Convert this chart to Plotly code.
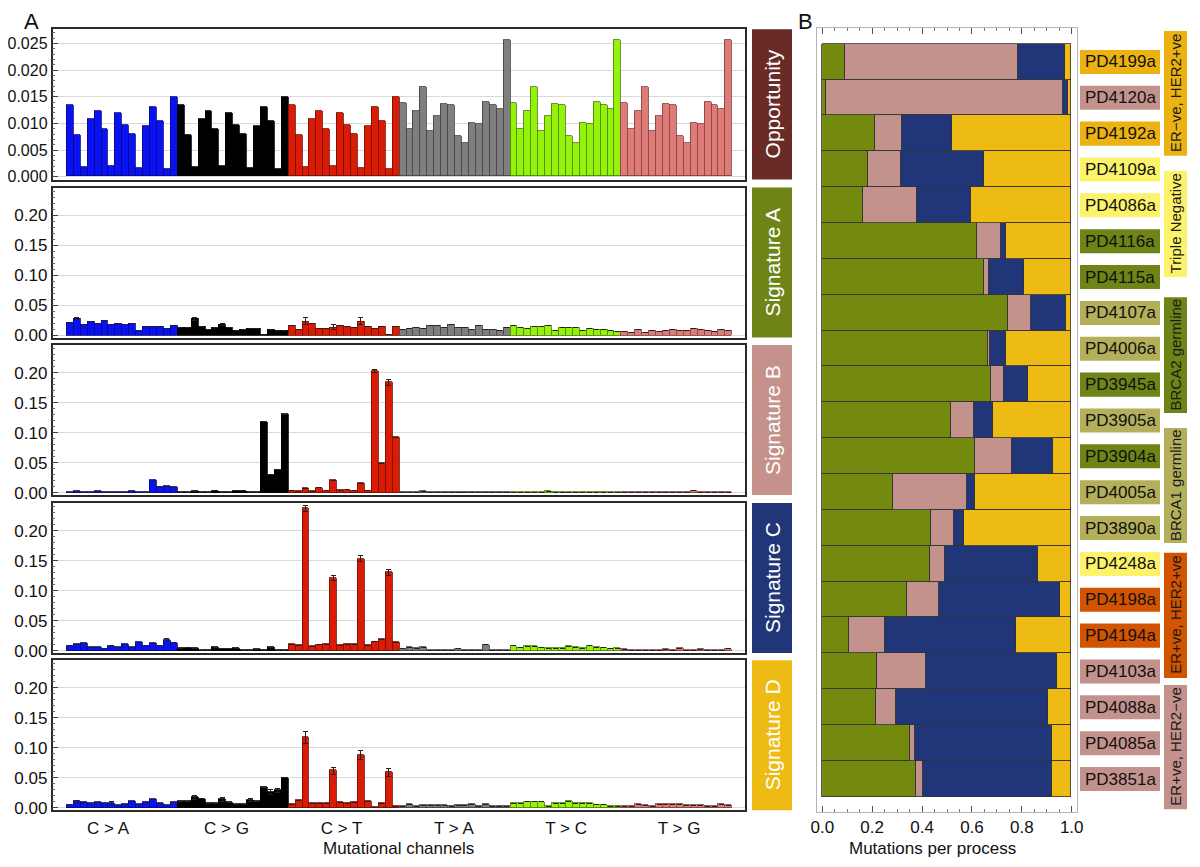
import plotly.graph_objects as go

FULL_W, FULL_H = 1200, 867
OFF = 8  # page body margin
W, H = FULL_W - OFF, FULL_H - OFF
FONT = "Liberation Sans, Arial, Helvetica, sans-serif"

# ---------------- data: panel A ----------------
mut_groups = ["C > A", "C > G", "C > T", "T > A", "T > C", "T > G"]
group_fill = ["#0A12F2", "#000000", "#DA1B06", "#7F7F7F", "#95F20A", "#DF7C78"]
group_edge = ["#06097A", "#000000", "#6E0E03", "#3F3F3F", "#4A7905", "#7A3D3B"]

opp_C = [0.0134, 0.0078, 0.0017, 0.0108, 0.0123, 0.0088, 0.0019, 0.0119,
         0.0097, 0.0080, 0.0016, 0.0094, 0.0131, 0.0103, 0.0014, 0.0148]
opp_T = [0.0138, 0.0089, 0.0123, 0.0167, 0.0086, 0.0113, 0.0136, 0.0134,
         0.0076, 0.0063, 0.0101, 0.0098, 0.0139, 0.0133, 0.0126, 0.0256]
opportunity = opp_C + opp_C + opp_C + opp_T + opp_T + opp_T

sigA = ([0.021, 0.028, 0.018, 0.022, 0.019, 0.024, 0.017, 0.019, 0.017, 0.019, 0.007, 0.015, 0.015, 0.014, 0.011, 0.016] +
        [0.012, 0.013, 0.027, 0.014, 0.010, 0.012, 0.018, 0.013, 0.008, 0.009, 0.011, 0.011, 0.001, 0.009, 0.008, 0.007] +
        [0.016, 0.010, 0.023, 0.019, 0.011, 0.011, 0.013, 0.016, 0.014, 0.013, 0.023, 0.014, 0.011, 0.014, 0.001, 0.014] +
        [0.009, 0.011, 0.013, 0.011, 0.016, 0.016, 0.013, 0.017, 0.013, 0.013, 0.010, 0.016, 0.010, 0.010, 0.008, 0.012] +
        [0.016, 0.013, 0.011, 0.014, 0.014, 0.016, 0.008, 0.013, 0.013, 0.012, 0.008, 0.011, 0.009, 0.009, 0.007, 0.006] +
        [0.006, 0.004, 0.009, 0.005, 0.007, 0.006, 0.007, 0.009, 0.008, 0.007, 0.011, 0.009, 0.007, 0.006, 0.009, 0.007])
sigA_err_idx = [1, 18, 22, 34, 38, 42]
sigA_err_val = [0.002, 0.003, 0.002, 0.006, 0.004, 0.006]

sigB = ([0.001, 0.002, 0.001, 0.001, 0.002, 0.001, 0.001, 0.001, 0.001, 0.002, 0.001, 0.001, 0.021, 0.010, 0.011, 0.009] +
        [0.001, 0.001, 0.002, 0.001, 0.001, 0.003, 0.001, 0.001, 0.003, 0.003, 0.001, 0.001, 0.118, 0.030, 0.038, 0.131] +
        [0.003, 0.002, 0.007, 0.002, 0.008, 0.003, 0.021, 0.004, 0.005, 0.003, 0.016, 0.003, 0.203, 0.049, 0.184, 0.092] +
        [0.001, 0.001, 0.001, 0.002, 0.001, 0.001, 0.001, 0.001, 0.001, 0.001, 0.001, 0.001, 0.001, 0.001, 0.001, 0.001] +
        [0.001, 0.001, 0.001, 0.001, 0.001, 0.002, 0.001, 0.001, 0.001, 0.001, 0.001, 0.001, 0.001, 0.001, 0.001, 0.001] +
        [0.001, 0.001, 0.001, 0.001, 0.001, 0.001, 0.001, 0.001, 0.001, 0.001, 0.003, 0.001, 0.001, 0.001, 0.001, 0.001])
sigB_err_idx = [44, 46]
sigB_err_val = [0.002, 0.005]

sigC = ([0.008, 0.011, 0.012, 0.006, 0.006, 0.003, 0.008, 0.006, 0.011, 0.006, 0.014, 0.008, 0.012, 0.008, 0.018, 0.013] +
        [0.004, 0.005, 0.004, 0.001, 0.001, 0.006, 0.003, 0.003, 0.004, 0.001, 0.001, 0.002, 0.001, 0.006, 0.001, 0.001] +
        [0.011, 0.009, 0.237, 0.007, 0.010, 0.011, 0.121, 0.009, 0.011, 0.011, 0.153, 0.009, 0.015, 0.019, 0.131, 0.014] +
        [0.003, 0.006, 0.004, 0.006, 0.001, 0.001, 0.001, 0.001, 0.003, 0.001, 0.001, 0.001, 0.010, 0.001, 0.001, 0.001] +
        [0.008, 0.005, 0.007, 0.007, 0.005, 0.004, 0.004, 0.004, 0.007, 0.006, 0.004, 0.008, 0.006, 0.005, 0.003, 0.004] +
        [0.002, 0.001, 0.001, 0.001, 0.001, 0.001, 0.002, 0.001, 0.004, 0.001, 0.001, 0.002, 0.001, 0.001, 0.001, 0.003])
sigC_err_idx = [14, 34, 38, 42, 46]
sigC_err_val = [0.002, 0.005, 0.004, 0.005, 0.005]

sigD = ([0.005, 0.011, 0.009, 0.008, 0.009, 0.008, 0.008, 0.004, 0.006, 0.011, 0.006, 0.009, 0.014, 0.007, 0.004, 0.009] +
        [0.011, 0.011, 0.017, 0.015, 0.008, 0.008, 0.014, 0.009, 0.006, 0.006, 0.013, 0.011, 0.034, 0.026, 0.029, 0.050] +
        [0.006, 0.013, 0.118, 0.008, 0.007, 0.008, 0.062, 0.009, 0.007, 0.009, 0.088, 0.011, 0.001, 0.008, 0.059, 0.003] +
        [0.003, 0.006, 0.003, 0.004, 0.004, 0.004, 0.004, 0.003, 0.004, 0.004, 0.006, 0.003, 0.006, 0.002, 0.002, 0.003] +
        [0.008, 0.007, 0.010, 0.010, 0.010, 0.002, 0.008, 0.007, 0.011, 0.007, 0.007, 0.007, 0.005, 0.005, 0.002, 0.002] +
        [0.002, 0.003, 0.006, 0.004, 0.003, 0.006, 0.006, 0.006, 0.006, 0.004, 0.004, 0.004, 0.003, 0.002, 0.006, 0.004])
sigD_err_idx = [1, 6, 18, 22, 26, 29, 30, 34, 38, 42, 46]
sigD_err_val = [0.002, 0.003, 0.003, 0.003, 0.002, 0.004, 0.003, 0.010, 0.006, 0.008, 0.006]

# ---------------- data: panel B ----------------
samples = ["PD4199a", "PD4120a", "PD4192a", "PD4109a", "PD4086a", "PD4116a", "PD4115a",
           "PD4107a", "PD4006a", "PD3945a", "PD3905a", "PD3904a", "PD4005a", "PD3890a",
           "PD4248a", "PD4198a", "PD4194a", "PD4103a", "PD4088a", "PD4085a", "PD3851a"]
proc_A = [0.094, 0.015, 0.213, 0.184, 0.164, 0.622, 0.648, 0.747, 0.667, 0.676, 0.519,
          0.615, 0.286, 0.439, 0.433, 0.342, 0.110, 0.222, 0.218, 0.354, 0.378]
proc_B = [0.692, 0.952, 0.108, 0.132, 0.216, 0.095, 0.023, 0.090, 0.008, 0.053, 0.089,
          0.146, 0.294, 0.090, 0.062, 0.126, 0.143, 0.195, 0.077, 0.020, 0.026]
proc_C = [0.190, 0.020, 0.202, 0.332, 0.218, 0.022, 0.138, 0.143, 0.064, 0.095, 0.076,
          0.164, 0.035, 0.042, 0.373, 0.485, 0.524, 0.527, 0.613, 0.547, 0.517]
proc_D = [0.024, 0.013, 0.477, 0.352, 0.402, 0.261, 0.191, 0.020, 0.261, 0.176, 0.316,
          0.075, 0.385, 0.429, 0.132, 0.047, 0.223, 0.056, 0.092, 0.079, 0.079]

C_OLIVE, C_PINK, C_NAVY, C_GOLD = "#748A0E", "#C4928C", "#213678", "#EDBB13"
LBL_GOLD, LBL_LY, LBL_OLIVE, LBL_KHAKI, LBL_ORANGE = "#ECB212", "#FDF36A", "#6E8416", "#B3AF5A", "#D25400"
sample_colors = [LBL_GOLD, C_PINK, LBL_GOLD, LBL_LY, LBL_LY, LBL_OLIVE, LBL_OLIVE,
                 LBL_KHAKI, LBL_KHAKI, LBL_OLIVE, LBL_KHAKI, LBL_OLIVE, LBL_KHAKI, LBL_KHAKI,
                 LBL_LY, LBL_ORANGE, LBL_ORANGE, C_PINK, C_PINK, C_PINK, C_PINK]
subtype_names = ["ER\u2212ve, HER2+ve", "Triple Negative", "BRCA2 germline", "BRCA1 germline",
                 "ER+ve, HER2+ve", "ER+ve, HER2\u2212ve"]
subtype_colors = [LBL_GOLD, LBL_LY, LBL_OLIVE, LBL_KHAKI, LBL_ORANGE, C_PINK]
# box extents in row units (layout)
subtype_y0 = [-0.86, 3.04, 6.56, 10.21, 13.69, 17.38]
subtype_y1 = [2.62, 6.00, 9.79, 13.42, 17.18, 20.84]

# ---------------- figure ----------------
fig = go.Figure()
layout = dict(width=W, height=H, margin=dict(l=0, r=0, t=0, b=0, pad=0, autoexpand=False),
              paper_bgcolor="white", plot_bgcolor="white", showlegend=False,
              barmode="stack", bargap=0, font=dict(family=FONT, size=17, color="#111"))
shapes, annotations = [], []

def px(p):
    return (p - OFF) / W

def py(p):
    return 1 - (p - OFF) / H

def ann(x, y, text, size, color="#111", angle=0, xref="paper", yref="paper", yanchor="middle"):
    return dict(xref=xref, yref=yref, x=x, y=y, text=text, showarrow=False, textangle=angle,
                xanchor="center", yanchor=yanchor, borderpad=0,
                font=dict(size=size, color=color, family=FONT))

channels = list(range(96))
bar_fill = [group_fill[i // 16] for i in channels]
bar_edge = [group_edge[i // 16] for i in channels]

def errs(idx, val):
    a = [None] * 96
    for i, v in zip(idx, val):
        a[i] = v
    return a

panels = [
    ("Opportunity", opportunity, None, (29.3, 179.5), [-0.00052, 0.02763], 0.005, 0.001, ".3f", "#6A2B27", 16),
    ("Signature A", sigA, errs(sigA_err_idx, sigA_err_val), (187.5, 337.5), [-0.004, 0.246], 0.05, 0.01, ".2f", "#6E8416", 17),
    ("Signature B", sigB, errs(sigB_err_idx, sigB_err_val), (345.0, 495.0), [-0.004, 0.246], 0.05, 0.01, ".2f", "#C4918B", 17),
    ("Signature C", sigC, errs(sigC_err_idx, sigC_err_val), (503.0, 653.0), [-0.004, 0.246], 0.05, 0.01, ".2f", "#213678", 17),
    ("Signature D", sigD, errs(sigD_err_idx, sigD_err_val), (660.3, 810.3), [-0.004, 0.246], 0.05, 0.01, ".2f", "#EDBB13", 17),
]
group_label_pos = [5.5, 22.6, 39.2, 55.4, 71.6, 87.9]

xdom = [px(52.5), px(745)]
for k, (name, vals, err, (ptop, pbot), yr, dt, mdt, fmt, tagc, tfs) in enumerate(panels):
    n = k + 1
    xa = "x" if n == 1 else f"x{n}"
    ya = "y" if n == 1 else f"y{n}"
    tr = go.Bar(x=channels, y=vals, width=1, xaxis=xa, yaxis=ya,
                marker=dict(color=bar_fill, line=dict(color=bar_edge, width=0.8)),
                hoverinfo="skip")
    if err is not None:
        tr.error_y = dict(type="data", array=err, visible=True, color="#222", thickness=1, width=2.5)
    fig.add_trace(tr)
    last = (n == len(panels))
    layout[f"xaxis{n}"] = dict(domain=xdom, anchor=ya, range=[-2.5, 97.4], automargin=False,
                              showline=True, mirror=True, linecolor="#2a2a2a", linewidth=1.5,
                              showgrid=False, zeroline=False, ticks="",
                              tickmode="array",
                              tickvals=group_label_pos if last else [],
                              ticktext=mut_groups if last else [],
                              ticklabelstandoff=2,
                              tickfont=dict(size=17, color="#111"))
    layout[f"yaxis{n}"] = dict(domain=[py(pbot), py(ptop)], anchor=xa, range=yr, automargin=False,
                              showline=True, mirror=True, linecolor="#2a2a2a", linewidth=1.5,
                              showgrid=True, gridcolor="#d9d9d9", gridwidth=1, zeroline=False,
                              tick0=0, dtick=dt, tickformat=fmt, ticks="inside", ticklen=6,
                              tickcolor="#444", tickfont=dict(size=tfs, color="#111"),
                              ticklabelstandoff=0,
                              minor=dict(dtick=mdt, tick0=0, ticks="inside", ticklen=3, tickcolor="#666"))
    # tag box
    shapes.append(dict(type="rect", xref="paper", yref="paper", x0=px(752), x1=px(792),
                       y0=py(pbot), y1=py(ptop), fillcolor=tagc, line=dict(width=0), layer="below"))
    annotations.append(ann(px(772), py((ptop + pbot) / 2), name, 21, "white", -90))

# panel B
rows = list(range(len(samples)))
for vals, col in [(proc_A, C_OLIVE), (proc_B, C_PINK), (proc_C, C_NAVY), (proc_D, C_GOLD)]:
    fig.add_trace(go.Bar(y=rows, x=vals, orientation="h", width=1, xaxis="x6", yaxis="y6",
                         marker=dict(color=col, line=dict(color="#333", width=0.8)),
                         hoverinfo="skip"))
layout["xaxis6"] = dict(domain=[px(817.3), px(1076.7)], anchor="y6", range=[-0.02, 1.02],
                        automargin=False,
                        showline=True, mirror="allticks", linecolor="#b5b5b5", linewidth=1.2,
                        showgrid=False, zeroline=False, tick0=0, dtick=0.2, tickformat=".1f",
                        ticks="inside", ticklen=6, tickcolor="#555", ticklabelstandoff=0,
                        minor=dict(dtick=0.05, tick0=0, ticks="inside", ticklen=3, tickcolor="#777"),
                        tickfont=dict(size=17, color="#111"))
layout["yaxis6"] = dict(domain=[py(811.7), py(28.3)], anchor="x6", range=[20.91, -0.937],
                        automargin=False,
                        showline=True, mirror=True, linecolor="#b5b5b5", linewidth=1.2,
                        showgrid=False, zeroline=False, showticklabels=False, ticks="")

for i, (s, c) in enumerate(zip(samples, sample_colors)):
    shapes.append(dict(type="rect", xref="paper", yref="y6", x0=px(1080), x1=px(1160),
                       y0=i - 0.335, y1=i + 0.335, fillcolor=c, line=dict(width=0)))
    annotations.append(ann(px(1120), i, s, 17, "#111", 0, "paper", "y6"))
for name, c, y0, y1 in zip(subtype_names, subtype_colors, subtype_y0, subtype_y1):
    shapes.append(dict(type="rect", xref="paper", yref="y6", x0=px(1164), x1=px(1187),
                       y0=y0, y1=y1, fillcolor=c, line=dict(width=0)))
    annotations.append(ann(px(1175.5), (y0 + y1) / 2, name, 15, "#1a1a1a", -90, "paper", "y6"))

# titles / letters
annotations += [
    ann(px(31), py(8), "A", 22, yanchor="top"),
    ann(px(805), py(8), "B", 22, yanchor="top"),
    ann(px(398.75), py(848), "Mutational channels", 17),
    ann(px(933), py(848), "Mutations per process", 17),
]

layout["shapes"] = shapes
layout["annotations"] = annotations
fig.update_layout(**layout)
fig.write_html("out.html")
